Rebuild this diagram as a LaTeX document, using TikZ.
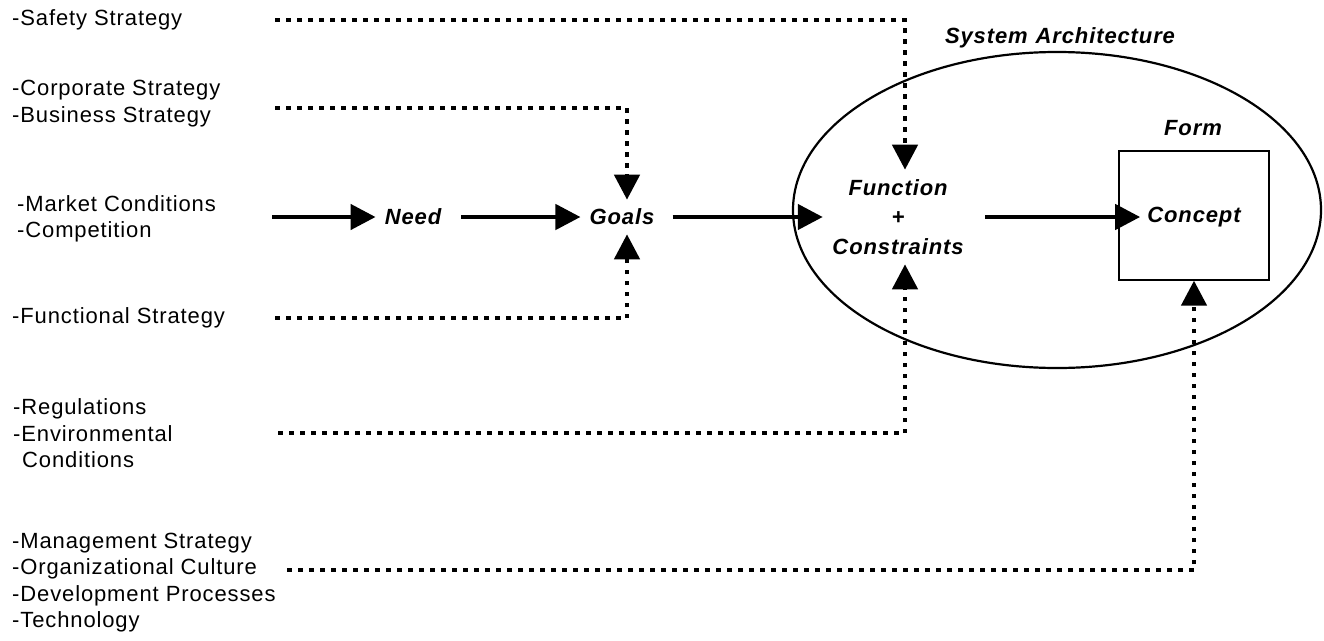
\documentclass[tikz,border=0pt]{standalone}
\usepackage{fontspec}
\setmainfont{Liberation Sans}[LetterSpace=4]
\usetikzlibrary{arrows.meta,shapes.geometric}
\begin{document}
\begin{tikzpicture}[x=1pt,y=-1pt,
				every node/.style={font=\fontsize{22}{26.5}\selectfont},
				src/.style={anchor=west,align=left,inner sep=0pt},
				lbl/.style={font=\fontsize{22}{29.5}\selectfont\bfseries\itshape,inner sep=9pt},
				flow/.style={line width=4.5pt,-{Triangle[length=25pt,width=25pt]}},
				infl/.style={line width=4.5pt,dash pattern=on 4.5pt off 6.5pt,-{Triangle[length=25pt,width=25pt]}}]
\useasboundingbox (0,0) rectangle (1324,640);
% influences on the left
\node[src] (safety) at (12,20) {-Safety Strategy};
\node[src] (corporate) at (12,103.5) {-Corporate Strategy\\-Business Strategy};
\node[src] (market) at (17,219) {-Market Conditions\\-Competition};
\node[src] (functional) at (12,318) {-Functional Strategy};
\node[src] (regs) at (13,433.5) {-Regulations\\-Environmental\\\hspace{9pt}Conditions};
\node[src] (mgmt) at (12,582.5) {-Management Strategy\\-Organizational Culture\\-Development Processes\\-Technology};
% architecture
\node[draw,ellipse,line width=2.2pt,minimum width=528pt,minimum height=316pt,inner sep=0pt] (arch) at (1057,210) {};
\node[lbl] (sysarch) at (1060,38) {System\hspace{8pt}Architecture};
\node[draw,line width=1.3pt,minimum width=150pt,minimum height=129pt] (formbox) at (1194,215.5) {};
\node[lbl] (form) at (1193,128) {Form};
\node[lbl,inner sep=7pt] (concept) at (1194,217) {Concept};
\node[lbl] (need) at (413,217) {Need};
\node[lbl] (goals) at (622,217) {Goals};
\node[lbl,align=center,inner sep=9.5pt] (func) at (898,217) {Function\\+\\Constraints};
% main flow
\coordinate (m0) at (272,217);
\draw[flow] (m0) -- (need);
\draw[flow,shorten <=11pt] (need) -- (goals);
\draw[flow,shorten <=9pt] (goals) -- (func);
\draw[flow,shorten <=12pt] (func) -- (concept);
% dotted influences
\coordinate (s0) at (275,20); \coordinate (s1) at (905,20);
\draw[infl] (s0) -- (s1) -- (s1 |- func.north);
\coordinate (c0) at (275,108); \coordinate (c1) at (627,108);
\draw[infl] (c0) -- (c1) -- (c1 |- goals.north);
\coordinate (f0) at (275,318); \coordinate (f1) at (627,318);
\draw[infl] (f0) -- (f1) -- (f1 |- goals.south);
\coordinate (r0) at (278,433); \coordinate (r1) at (905,433);
\draw[infl] (r0) -- (r1) -- (r1 |- func.south);
\coordinate (g0) at (287,570); \coordinate (g1) at (1194,570);
\draw[infl] (g0) -- (g1) -- (formbox.south);
\end{tikzpicture}
\end{document}
